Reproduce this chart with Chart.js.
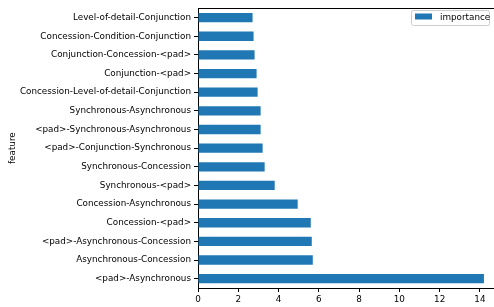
<!DOCTYPE html>
<html><head><meta charset="utf-8">
<script src="https://cdn.jsdelivr.net/npm/chart.js@4/dist/chart.umd.min.js"></script>
<style>html,body{margin:0;padding:0;background:#fff}#wrap{width:494px;height:307px}</style>
</head><body><div id="wrap"><canvas id="c" width="494" height="307"></canvas></div>
<script>
// Categories, bottom to top (pandas order)
const features = [
  "<pad>-Asynchronous",
  "Asynchronous-Concession",
  "<pad>-Asynchronous-Concession",
  "Concession-<pad>",
  "Concession-Asynchronous",
  "Synchronous-<pad>",
  "Synchronous-Concession",
  "<pad>-Conjunction-Synchronous",
  "<pad>-Synchronous-Asynchronous",
  "Synchronous-Asynchronous",
  "Concession-Level-of-detail-Conjunction",
  "Conjunction-<pad>",
  "Conjunction-Concession-<pad>",
  "Concession-Condition-Conjunction",
  "Level-of-detail-Conjunction"
];
const importance = [14.2, 5.7, 5.65, 5.6, 4.95, 3.81, 3.31, 3.21, 3.11, 3.11, 2.96, 2.91, 2.81, 2.76, 2.71];
const xTicks = [0, 2, 4, 6, 8, 10, 12, 14];
const seriesName = "importance";
const yTitle = "feature";

const FONT = "'DejaVu Sans', sans-serif";
const FS = 8.8;
const BLUE = "#1f77b4";

const framePlugin = {
  id: 'frame',
  afterDraw(chart) {
    const {ctx, chartArea: a} = chart;
    ctx.save();
    ctx.strokeStyle = '#000';
    ctx.lineWidth = 1;
    ctx.beginPath();
    ctx.moveTo(a.left, Math.round(a.top) + 0.5);
    ctx.lineTo(a.right, Math.round(a.top) + 0.5);
    ctx.stroke();
    // legend
    const x0 = 411.5, y0 = 10.5, w = 78, h = 15;
    ctx.fillStyle = 'rgba(255,255,255,0.8)';
    ctx.strokeStyle = '#cccccc';
    ctx.beginPath();
    if (ctx.roundRect) ctx.roundRect(x0, y0, w, h, 2); else ctx.rect(x0, y0, w, h);
    ctx.fill(); ctx.stroke();
    ctx.fillStyle = BLUE;
    ctx.fillRect(415, 13.5, 17, 6);
    ctx.fillStyle = '#000';
    ctx.font = FS + "px " + FONT;
    ctx.textBaseline = 'middle';
    ctx.textAlign = 'left';
    ctx.fillText(chart.data.datasets[0].label, 440, 17.5);
    ctx.restore();
  }
};

new Chart(document.getElementById('c'), {
  type: 'bar',
  data: {
    labels: features,
    datasets: [{
      label: seriesName,
      data: importance,
      backgroundColor: BLUE,
      borderWidth: 0,
      barPercentage: 0.5,
      categoryPercentage: 1.0
    }]
  },
  options: {
    indexAxis: 'y',
    responsive: false,
    animation: false,
    devicePixelRatio: 1,
    layout: { padding: { top: 5, left: 0, right: 0, bottom: 0 } },
    plugins: { legend: { display: false }, tooltip: { enabled: false } },
    scales: {
      x: {
        min: 0, max: 14.7,
        afterBuildTicks(s) { s.ticks = xTicks.map(v => ({ value: v })); },
        afterFit(s) { s.height = 19; },
        grid: { drawOnChartArea: false, drawTicks: true, tickLength: 4, tickColor: '#000', tickWidth: 1 },
        border: { display: true, color: '#000', width: 1 },
        ticks: { color: '#000', font: { family: FONT, size: FS }, padding: 2, maxRotation: 0 }
      },
      y: {
        reverse: true,
        offset: true,
        afterFit(s) { s.width = 198; },
        grid: { drawOnChartArea: false, drawTicks: true, tickLength: 4, tickColor: '#000', tickWidth: 1, offset: false },
        border: { display: true, color: '#000', width: 1 },
        ticks: { color: '#000', font: { family: FONT, size: FS }, padding: 3, autoSkip: false },
        title: { display: true, text: yTitle, color: '#000', font: { family: FONT, size: FS }, padding: { top: 7, bottom: 0 } }
      }
    }
  },
  plugins: [framePlugin]
});
</script>
</body></html>
